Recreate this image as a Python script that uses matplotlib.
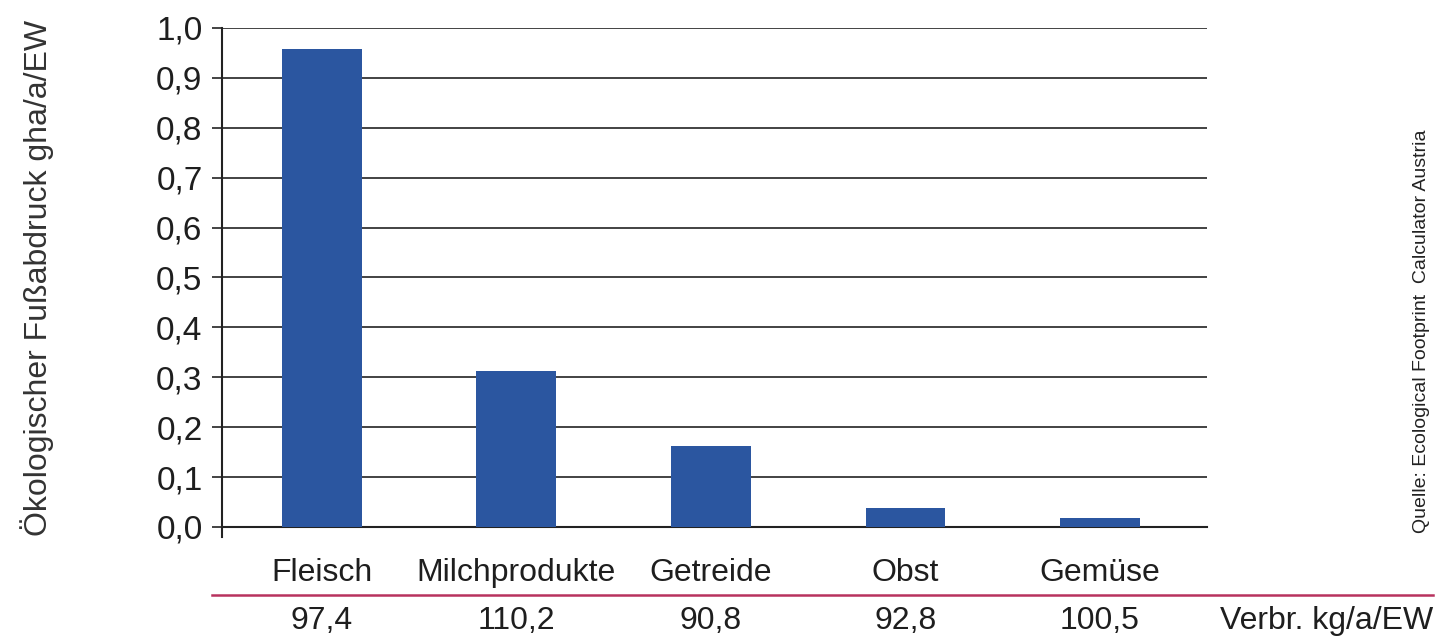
import numpy as np
import matplotlib.pyplot as plt
import matplotlib.transforms as mtransforms
from matplotlib.lines import Line2D

plt.rcParams['font.family'] = ['Liberation Sans Narrow', 'Liberation Sans', 'DejaVu Sans']

categories = ['Fleisch', 'Milchprodukte', 'Getreide', 'Obst', 'Gemüse']
footprint = [0.958, 0.312, 0.163, 0.038, 0.018]
consumption = ['97,4', '110,2', '90,8', '92,8', '100,5']
yticks = [0.0, 0.1, 0.2, 0.3, 0.4, 0.5, 0.6, 0.7, 0.8, 0.9, 1.0]
ytick_labels = ['0,0', '0,1', '0,2', '0,3', '0,4', '0,5', '0,6', '0,7', '0,8', '0,9', '1,0']

fig = plt.figure(figsize=(14.49, 6.36), dpi=100)
ax = fig.add_axes([0.1532, 0.1714, 0.6798, 0.7846])

x = np.arange(len(categories))
ax.bar(x, footprint, width=0.41, color='#2B56A0', zorder=3)

ax.set_xlim(-0.513, 4.55)
ax.set_ylim(0, 1.0)
ax.set_yticks(yticks)
ax.set_yticklabels(ytick_labels, fontsize=24, color='#1e1e1e')
ax.yaxis.grid(True, color='#222222', linewidth=1.2, zorder=0)
ax.tick_params(axis='y', length=7, width=1.2, pad=7, color='#222222')

ax.set_xticks(x)
ax.set_xticklabels(categories, fontsize=23, color='#1e1e1e')
ax.tick_params(axis='x', length=0, pad=22)

for s in ['top', 'right']:
    ax.spines[s].set_visible(False)
ax.spines['left'].set_linewidth(1.5)
ax.spines['left'].set_color('#222222')
ax.spines['bottom'].set_linewidth(1.5)
ax.spines['bottom'].set_color('#222222')
ax.spines['left'].set_bounds(-0.02, 1.0)

ax.set_ylabel('Ökologischer Fußabdruck gha/a/EW', fontsize=23, color='#333333')
ax.yaxis.set_label_coords(-0.171, 0.5)

# Verbrauch row under the red line
trans = mtransforms.blended_transform_factory(ax.transData, fig.transFigure)
for xi, val in zip(x, consumption):
    ax.text(xi, 1 - 621 / 636, val, transform=trans, ha='center', va='center',
            fontsize=23, color='#1e1e1e', clip_on=False)
fig.text(1433 / 1449, 1 - 621 / 636, 'Verbr. kg/a/EW', ha='right', va='center',
         fontsize=23, color='#1e1e1e')

fig.add_artist(Line2D([212 / 1449, 1433 / 1449], [1 - 595 / 636, 1 - 595 / 636],
                      color='#B8325E', linewidth=1.8))

fig.text(1422 / 1449, 1 - 331 / 636, 'Quelle: Ecological Footprint  Calculator Austria',
         rotation=90, ha='center', va='center', fontsize=14, color='#222222')

fig.savefig('out.png', dpi=100)
